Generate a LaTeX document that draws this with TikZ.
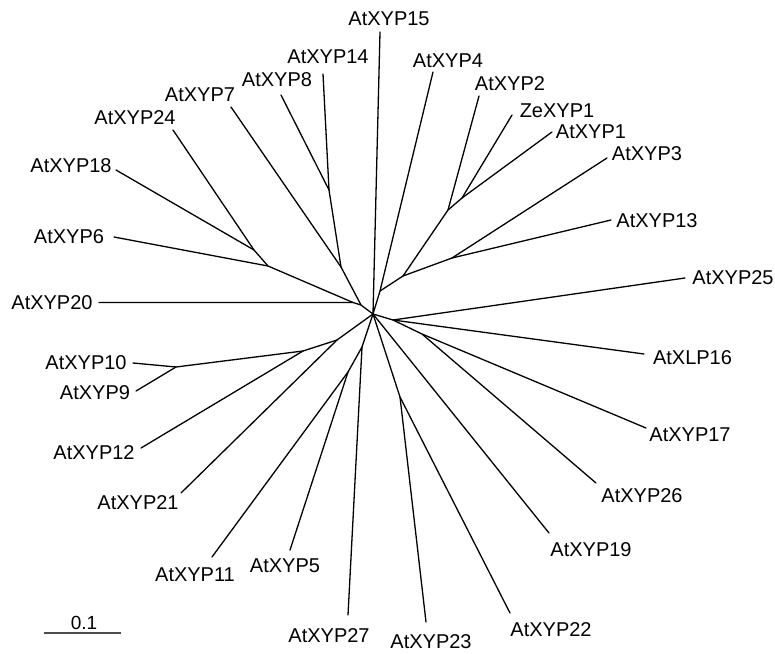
\documentclass[tikz,border=0pt]{standalone}
\usepackage{fontspec}
\setmainfont{Liberation Sans}
\begin{document}
\begin{tikzpicture}[x=1pt,y=-1pt,
  branch/.style={line width=1.3pt,black,line cap=round,line join=round},
  lbl/.style={inner sep=0pt,font=\fontsize{20}{24}\selectfont},
  scalebar/.style={line width=2pt,black!70}]
\useasboundingbox (0,0) rectangle (775,653);
% inner nodes
\coordinate (C) at (373,314);
\coordinate (n1) at (380,291);
\coordinate (n2) at (403,276);
\coordinate (n3) at (452,258);
\coordinate (n4) at (448,210);
\coordinate (n5) at (462,198);
\coordinate (nL) at (361,305);
\coordinate (n20) at (353,302.5);
\coordinate (n6) at (268,266);
\coordinate (n18) at (254,250);
\coordinate (n7) at (341,267);
\coordinate (n8) at (329,190);
\coordinate (n21) at (337,340);
\coordinate (n12) at (303,351);
\coordinate (n9) at (176,367);
\coordinate (n27) at (362,347);
\coordinate (n11) at (348,372);
\coordinate (n22) at (400,397);
\coordinate (nR) at (393,320);
\coordinate (n26) at (422,334);
% leaf tips
\coordinate (t15) at (380,32);
\coordinate (t14) at (323,74);
\coordinate (t4) at (433,72);
\coordinate (t8) at (281,95);
\coordinate (t2) at (479,96);
\coordinate (t7) at (231,107);
\coordinate (tZe) at (512,115);
\coordinate (t24) at (173,130);
\coordinate (t1) at (552,132);
\coordinate (t3) at (607,158);
\coordinate (t18) at (116,170);
\coordinate (t13) at (611,220);
\coordinate (t6) at (114,237);
\coordinate (t25) at (685,278);
\coordinate (t20) at (99,302.5);
\coordinate (t10) at (133,363);
\coordinate (t16) at (644,354);
\coordinate (t9) at (136,391);
\coordinate (t12) at (141,448);
\coordinate (t17) at (646,428);
\coordinate (t21) at (181,493);
\coordinate (t26) at (596,483);
\coordinate (t19) at (549,533);
\coordinate (t11) at (212,557);
\coordinate (t5) at (290,550);
\coordinate (t27) at (348,615);
\coordinate (t23) at (426,622);
\coordinate (t22) at (510,613);
% branches
\draw[branch] (C) -- (t15);
\draw[branch] (C) -- (n1) -- (t4);
\draw[branch] (n1) -- (n2) -- (n3) -- (t3);
\draw[branch] (n3) -- (t13);
\draw[branch] (n2) -- (n4) -- (t2);
\draw[branch] (n4) -- (n5) -- (tZe);
\draw[branch] (n5) -- (t1);
\draw[branch] (C) -- (nL) -- (n20) -- (t20);
\draw[branch] (n20) -- (n6) -- (t6);
\draw[branch] (n6) -- (n18) -- (t18);
\draw[branch] (n18) -- (t24);
\draw[branch] (nL) -- (n7) -- (t7);
\draw[branch] (n7) -- (n8) -- (t8);
\draw[branch] (n8) -- (t14);
\draw[branch] (C) -- (n21) -- (t21);
\draw[branch] (n21) -- (n12) -- (t12);
\draw[branch] (n12) -- (n9) -- (t10);
\draw[branch] (n9) -- (t9);
\draw[branch] (C) -- (n27) -- (t27);
\draw[branch] (n27) -- (n11) -- (t11);
\draw[branch] (n11) -- (t5);
\draw[branch] (C) -- (t19);
\draw[branch] (C) -- (n22) -- (t23);
\draw[branch] (n22) -- (t22);
\draw[branch] (C) -- (nR) -- (t25);
\draw[branch] (nR) -- (t16);
\draw[branch] (nR) -- (n26) -- (t17);
\draw[branch] (n26) -- (t26);
% labels
\node[lbl] (L15) at (389,19) {AtXYP15};
\node[lbl] (L14) at (328,57) {AtXYP14};
\node[lbl] (L4) at (448,61) {AtXYP4};
\node[lbl] (L8) at (277,80) {AtXYP8};
\node[lbl] (L2) at (510,84) {AtXYP2};
\node[lbl] (L7) at (200,95) {AtXYP7};
\node[lbl] (LZe) at (557,111) {ZeXYP1};
\node[lbl] (L24) at (135,118) {AtXYP24};
\node[lbl] (L1) at (591,132) {AtXYP1};
\node[lbl] (L3) at (647,154) {AtXYP3};
\node[lbl] (L18) at (71,166) {AtXYP18};
\node[lbl] (L13) at (657,221) {AtXYP13};
\node[lbl] (L6) at (69,237) {AtXYP6};
\node[lbl] (L25) at (733,278) {AtXYP25};
\node[lbl] (L20) at (52,303) {AtXYP20};
\node[lbl] (L10) at (86,362.5) {AtXYP10};
\node[lbl] (L16) at (692.5,357.5) {AtXLP16};
\node[lbl] (L9) at (95,392.5) {AtXYP9};
\node[lbl] (L12) at (94,452.5) {AtXYP12};
\node[lbl] (L17) at (690,434.5) {AtXYP17};
\node[lbl] (L21) at (138,502.5) {AtXYP21};
\node[lbl] (L26) at (642,495.5) {AtXYP26};
\node[lbl] (L19) at (591,549.5) {AtXYP19};
\node[lbl] (L11) at (195,574.5) {AtXYP11};
\node[lbl] (L5) at (285,566) {AtXYP5};
\node[lbl] (L27) at (329,636) {AtXYP27};
\node[lbl] (L23) at (431,642) {AtXYP23};
\node[lbl] (L22) at (551,629.5) {AtXYP22};
% scale bar
\coordinate (sbA) at (44,633);
\coordinate (sbB) at (121,633);
\draw[scalebar] (sbA) -- (sbB);
\node[lbl,font=\fontsize{19}{22}\selectfont] (sbL) at (84,622.5) {0.1};
\end{tikzpicture}
\end{document}
